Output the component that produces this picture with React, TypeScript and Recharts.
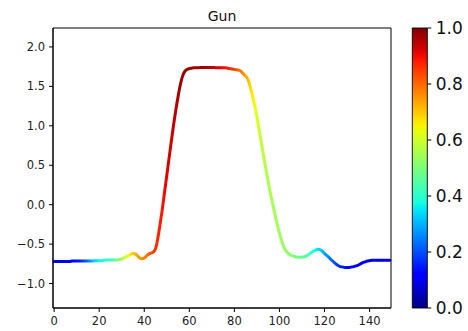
import React from 'react';
import { LineChart, Line, XAxis, YAxis, ReferenceArea, BarChart, Bar } from 'recharts';

const gunValues: number[] = [
  -0.72, -0.72, -0.72, -0.72, -0.72, -0.72, -0.72, -0.72, -0.715, -0.715,
  -0.715, -0.715, -0.715, -0.715, -0.715, -0.715, -0.715, -0.715, -0.71, -0.71,
  -0.71, -0.71, -0.705, -0.70, -0.70, -0.70, -0.70, -0.70, -0.70, -0.695,
  -0.69, -0.675, -0.66, -0.645, -0.63, -0.62, -0.625, -0.65, -0.675, -0.685,
  -0.675, -0.65, -0.625, -0.615, -0.60, -0.56, -0.43, -0.25, -0.06, 0.16,
  0.37, 0.59, 0.80, 1.01, 1.20, 1.37, 1.52, 1.63, 1.69, 1.715,
  1.725, 1.73, 1.735, 1.735, 1.735, 1.74, 1.74, 1.74, 1.74, 1.74,
  1.74, 1.74, 1.735, 1.735, 1.735, 1.735, 1.735, 1.73, 1.725, 1.72,
  1.715, 1.71, 1.705, 1.69, 1.66, 1.63, 1.59, 1.50, 1.39, 1.26,
  1.11, 0.95, 0.78, 0.61, 0.45, 0.29, 0.14, 0.01, -0.12, -0.25,
  -0.36, -0.46, -0.54, -0.59, -0.62, -0.64, -0.65, -0.66, -0.665, -0.665,
  -0.665, -0.66, -0.65, -0.63, -0.61, -0.59, -0.575, -0.565, -0.57, -0.59,
  -0.62, -0.645, -0.67, -0.70, -0.725, -0.75, -0.77, -0.785, -0.79, -0.795,
  -0.795, -0.795, -0.79, -0.785, -0.775, -0.765, -0.75, -0.735, -0.725, -0.715,
  -0.71, -0.705, -0.705, -0.705, -0.705, -0.705, -0.705, -0.705, -0.705, -0.705,
];

const gunWeights: number[] = [
  0.08, 0.08, 0.08, 0.09, 0.09, 0.10, 0.10, 0.11, 0.12, 0.13,
  0.14, 0.15, 0.17, 0.19, 0.21, 0.24, 0.27, 0.30, 0.33, 0.35,
  0.37, 0.38, 0.39, 0.40, 0.41, 0.42, 0.44, 0.46, 0.49, 0.52,
  0.55, 0.58, 0.61, 0.64, 0.67, 0.70, 0.72, 0.74, 0.75, 0.76,
  0.77, 0.79, 0.81, 0.83, 0.85, 0.86, 0.87, 0.88, 0.89, 0.90,
  0.91, 0.92, 0.93, 0.94, 0.95, 0.96, 0.97, 0.97, 0.98, 0.98,
  0.98, 0.98, 0.98, 0.98, 0.97, 0.97, 0.97, 0.96, 0.96, 0.95,
  0.95, 0.94, 0.93, 0.92, 0.91, 0.90, 0.89, 0.88, 0.87, 0.86,
  0.84, 0.82, 0.80, 0.78, 0.76, 0.74, 0.71, 0.68, 0.66, 0.64,
  0.62, 0.60, 0.59, 0.58, 0.57, 0.56, 0.56, 0.55, 0.55, 0.55,
  0.54, 0.54, 0.53, 0.53, 0.52, 0.52, 0.51, 0.50, 0.49, 0.48,
  0.47, 0.46, 0.45, 0.43, 0.41, 0.39, 0.37, 0.35, 0.33, 0.31,
  0.29, 0.27, 0.25, 0.23, 0.21, 0.19, 0.17, 0.16, 0.15, 0.14,
  0.13, 0.12, 0.12, 0.11, 0.11, 0.10, 0.10, 0.10, 0.09, 0.09,
  0.09, 0.09, 0.09, 0.08, 0.08, 0.08, 0.08, 0.08, 0.08, 0.08,
];

const xTicks = [0, 20, 40, 60, 80, 100, 120, 140];
const yTicks = [-1, -0.5, 0, 0.5, 1, 1.5, 2];
const cbTicks = [0, 0.2, 0.4, 0.6, 0.8, 1];
const title = 'Gun';

const data = gunValues.map((v, i) => ({ t: i, v }));
const cbData = [{ name: 'cb', value: 1 }];

function interp(pts: number[][], t: number): number {
  for (let i = 1; i < pts.length; i++) {
    if (t <= pts[i][0]) {
      const [x0, y0] = pts[i - 1];
      const [x1, y1] = pts[i];
      return y0 + ((t - x0) / (x1 - x0)) * (y1 - y0);
    }
  }
  return pts[pts.length - 1][1];
}

function jet(t: number): string {
  const r = interp([[0, 0], [0.35, 0], [0.66, 1], [0.89, 1], [1, 0.5]], t);
  const g = interp([[0, 0], [0.125, 0], [0.375, 1], [0.64, 1], [0.91, 0], [1, 0]], t);
  const b = interp([[0, 0.5], [0.11, 1], [0.34, 1], [0.65, 0], [1, 0]], t);
  const h = (x: number) => Math.round(Math.max(0, Math.min(1, x)) * 255).toString(16).padStart(2, '0');
  return '#' + h(r) + h(g) + h(b);
}

const cbStops = Array.from({ length: 41 }, (_, i) => i / 40);

const fmt = (v: number) => (v < 0 ? '\u2212' : '') + Math.abs(v).toFixed(1);

const font = 'DejaVu Sans';

export default function App() {
  return (
    <div style={{ position: 'fixed', left: 0, top: 0, width: 468, height: 331, background: '#fff' }}>
      <div
        style={{
          position: 'absolute', left: 53, width: 338, top: 9, textAlign: 'center',
          fontFamily: font, fontSize: 14, lineHeight: '14px', color: '#111',
        }}
      >
        {title}
      </div>
      <div style={{ position: 'absolute', left: 0, top: 0 }}>
        <LineChart width={468} height={331} data={data} margin={{ top: 28, right: 77, bottom: 3, left: 13 }}>
          <defs>
            <linearGradient id="lineGrad" x1="0" y1="0" x2="1" y2="0">
              {gunWeights.map((w, i) => (
                <stop key={i} offset={i / (gunWeights.length - 1)} stopColor={jet(w)} />
              ))}
            </linearGradient>
          </defs>
          <XAxis
            dataKey="t"
            type="number"
            domain={[-0.5, 149.5]}
            ticks={xTicks}
            height={20}
            tickSize={4}
            tickMargin={5}
            axisLine={{ stroke: '#000', strokeWidth: 1 }}
            tickLine={{ stroke: '#000', strokeWidth: 1 }}
            tick={{ fill: '#222', fontSize: 11.5, fontFamily: font }}
            interval={0}
          />
          <YAxis
            type="number"
            domain={[-1.31, 2.24]}
            ticks={yTicks}
            width={40}
            tickSize={4}
            tickMargin={4}
            tickFormatter={fmt}
            axisLine={{ stroke: '#000', strokeWidth: 1 }}
            tickLine={{ stroke: '#000', strokeWidth: 1 }}
            tick={{ fill: '#222', fontSize: 11.5, fontFamily: font }}
            interval={0}
            allowDataOverflow
          />
          <ReferenceArea x1={-0.5} x2={149.5} y1={-1.31} y2={2.24} fill="none" stroke="#000" strokeWidth={1} />
          <Line
            dataKey="v"
            type="monotone"
            stroke="url(#lineGrad)"
            strokeWidth={3}
            dot={false}
            strokeLinecap="round"
            strokeLinejoin="round"
            isAnimationActive={false}
          />
        </LineChart>
      </div>
      <div style={{ position: 'absolute', left: 0, top: 0 }}>
        <BarChart
          width={468}
          height={331}
          data={cbData}
          margin={{ top: 28, right: 0.7, bottom: 23, left: 412.3 }}
          barCategoryGap={0}
        >
          <defs>
            <linearGradient id="cbGrad" x1="0" y1="1" x2="0" y2="0">
              {cbStops.map((s, i) => (
                <stop key={i} offset={s} stopColor={jet(s)} />
              ))}
            </linearGradient>
          </defs>
          <XAxis dataKey="name" hide />
          <YAxis
            orientation="right"
            type="number"
            domain={[0, 1]}
            ticks={cbTicks}
            width={40}
            tickSize={4}
            tickMargin={4.5}
            tickFormatter={(v: number) => v.toFixed(1)}
            axisLine={false}
            tickLine={{ stroke: '#000', strokeWidth: 1 }}
            tick={{ fill: '#111', fontSize: 17, fontFamily: font }}
            interval={0}
          />
          <Bar dataKey="value" fill="url(#cbGrad)" stroke="#000" strokeWidth={0.9} isAnimationActive={false} />
        </BarChart>
      </div>
    </div>
  );
}
